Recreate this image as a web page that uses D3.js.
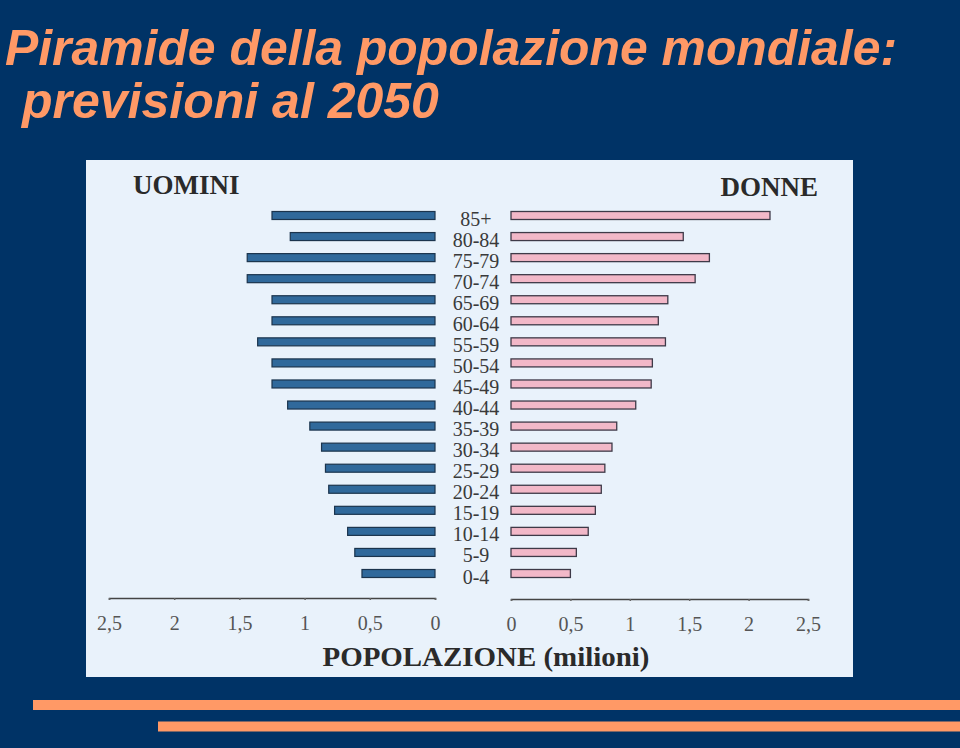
<!DOCTYPE html>
<html>
<head>
<meta charset="utf-8">
<script src="https://cdn.jsdelivr.net/npm/d3@7/dist/d3.min.js"></script>
<style>
  html, body { margin: 0; padding: 0; background: #003366; }
  svg { display: block; }
</style>
</head>
<body>
<svg id="chart" width="960" height="748"></svg>
<script>
// ---- DATA ----
const titleLines = ["Piramide della popolazione mondiale:", "previsioni al 2050"];
const ageGroups = ["85+","80-84","75-79","70-74","65-69","60-64","55-59","50-54","45-49",
                   "40-44","35-39","30-34","25-29","20-24","15-19","10-14","5-9","0-4"];
const uomini = [1.25,1.11,1.44,1.44,1.25,1.25,1.36,1.25,1.25,1.13,0.96,0.87,0.84,0.815,0.77,0.67,0.615,0.56];
const donne  = [2.18,1.45,1.67,1.55,1.32,1.24,1.30,1.19,1.18,1.05,0.89,0.85,0.79,0.76,0.71,0.65,0.55,0.50];
const tickValues = [0, 0.5, 1, 1.5, 2, 2.5];
const tickLabels = ["0", "0,5", "1", "1,5", "2", "2,5"];
const leftLabel = "UOMINI";
const rightLabel = "DONNE";
const axisTitle = "POPOLAZIONE (milioni)";

// ---- DRAW ----
const svg = d3.select("#chart");

// background
svg.append("rect").attr("width", 960).attr("height", 748).attr("fill", "#003366");

// title
const title = svg.append("g").attr("font-family", "'Liberation Sans', Arial, sans-serif")
  .attr("font-weight", "bold").attr("font-style", "italic").attr("font-size", 50).attr("fill", "#ff9966");
title.append("text").attr("x", 5).attr("y", 65)
  .attr("textLength", 892).attr("lengthAdjust", "spacingAndGlyphs").text(titleLines[0]);
title.append("text").attr("x", 22).attr("y", 118).text(titleLines[1]);

// panel
svg.append("rect").attr("x", 86).attr("y", 160).attr("width", 767).attr("height", 517)
  .attr("fill", "#e9f2fb");

// scales
const xL = d3.scaleLinear().domain([0, 2.5]).range([435, 109]);
const xR = d3.scaleLinear().domain([0, 2.5]).range([511, 808]);
const y = d3.scalePoint().domain(ageGroups).range([215.5, 573.5]);
const barH = 8;

// men bars
svg.append("g").selectAll("rect").data(ageGroups).join("rect")
  .attr("x", (d, i) => xL(uomini[i]))
  .attr("y", d => y(d) - barH / 2)
  .attr("width", (d, i) => xL(0) - xL(uomini[i]))
  .attr("height", barH)
  .attr("fill", "#30699b")
  .attr("stroke", "#1b344d")
  .attr("stroke-width", 1.2);

// women bars
svg.append("g").selectAll("rect").data(ageGroups).join("rect")
  .attr("x", xR(0))
  .attr("y", d => y(d) - barH / 2)
  .attr("width", (d, i) => xR(donne[i]) - xR(0))
  .attr("height", barH)
  .attr("fill", "#f2b8c8")
  .attr("stroke", "#3e3a48")
  .attr("stroke-width", 1.3);

// age labels
svg.append("g").attr("font-family", "'Liberation Serif', 'Times New Roman', serif")
  .attr("font-size", 20).attr("fill", "#3a3a3a").attr("text-anchor", "middle")
  .selectAll("text").data(ageGroups).join("text")
  .attr("x", 476).attr("y", d => y(d) + 10).text(d => d);

// axes
const fmt = d => tickLabels[tickValues.indexOf(d)];
function styleAxis(g) {
  g.select(".domain").attr("stroke", "#444").attr("stroke-width", 1.5);
  g.selectAll(".tick line").attr("stroke", "#666").attr("stroke-width", 1.5);
  g.selectAll(".tick text").attr("font-family", "'Liberation Serif', 'Times New Roman', serif")
    .attr("font-size", 20).attr("fill", "#555").attr("dy", "0.9em");
}
const axL = svg.append("g").attr("transform", "translate(0,598)")
  .call(d3.axisBottom(xL).tickValues(tickValues).tickFormat(fmt).tickSizeOuter(0).tickSize(2).tickPadding(12));
styleAxis(axL);
const axR = svg.append("g").attr("transform", "translate(0,599)")
  .call(d3.axisBottom(xR).tickValues(tickValues).tickFormat(fmt).tickSizeOuter(0).tickSize(2).tickPadding(12));
styleAxis(axR);

// side labels
const lab = svg.append("g").attr("font-family", "'Liberation Serif', 'Times New Roman', serif")
  .attr("font-weight", "bold").attr("font-size", 27).attr("fill", "#2a2a2a");
lab.append("text").attr("x", 133).attr("y", 194).text(leftLabel);
lab.append("text").attr("x", 818).attr("y", 196).attr("text-anchor", "end").text(rightLabel);
lab.append("text").attr("x", 486).attr("y", 666).attr("text-anchor", "middle")
  .attr("textLength", 327).attr("lengthAdjust", "spacingAndGlyphs").text(axisTitle);

// decorative stripes
svg.append("rect").attr("x", 33).attr("y", 700).attr("width", 927).attr("height", 10).attr("fill", "#ff9966");
svg.append("rect").attr("x", 158).attr("y", 721.5).attr("width", 802).attr("height", 10).attr("fill", "#ff9966");
</script>
</body>
</html>
